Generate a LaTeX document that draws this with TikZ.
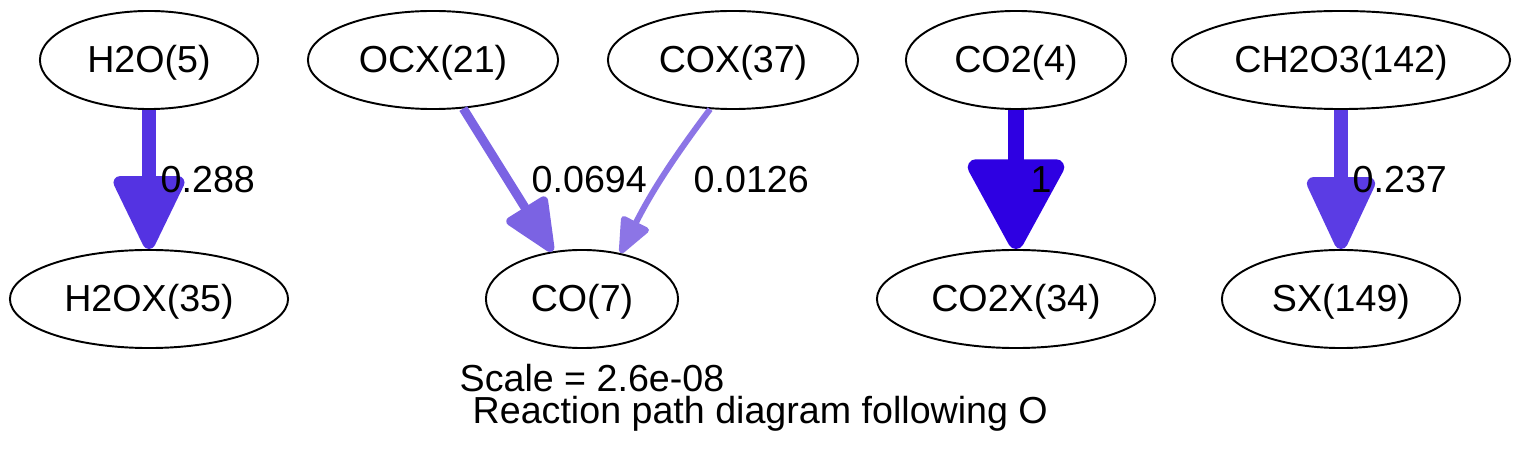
\documentclass[tikz,border=0pt]{standalone}
\usepackage{fontspec}
\setmainfont{Liberation Sans}
\usetikzlibrary{shapes.geometric,arrows.meta}

\definecolor{fluxA}{RGB}{84,51,226}
\definecolor{fluxB}{RGB}{46,0,226}
\definecolor{fluxC}{RGB}{91,60,228}
\definecolor{fluxD}{RGB}{123,99,227}
\definecolor{fluxE}{RGB}{140,117,230}

\begin{document}
\begin{tikzpicture}[x=0.01cm, y=0.01cm,
	species/.style={draw, ellipse, line width=0.55pt, inner sep=0pt, minimum height=0.98cm,
		font=\fontsize{10.7}{13}\selectfont, text height=0.72em, text depth=0pt},
	rate/.style={anchor=west, inner sep=0pt, font=\fontsize{10.7}{13}\selectfont},
	caption/.style={anchor=base west, inner sep=0pt, text depth=0pt, font=\fontsize{10.7}{13}\selectfont}]

	\useasboundingbox (0,0) rectangle (1520,-461);

	% sources
	\node [species, minimum width=2.18cm] (h2o) at (149,-60) {H2O(5)};
	\node [species, minimum width=2.50cm] (ocx) at (433,-60) {OCX(21)};
	\node [species, minimum width=2.50cm] (cox) at (733,-60) {COX(37)};
	\node [species, minimum width=2.20cm] (co2) at (1016,-60) {CO2(4)};
	\node [species, minimum width=3.38cm] (ch2o3) at (1341,-60) {CH2O3(142)};

	% products
	\node [species, minimum width=2.78cm] (h2ox) at (149,-299) {H2OX(35)};
	\node [species, minimum width=1.92cm] (co) at (582,-299) {CO(7)};
	\node [species, minimum width=2.78cm] (co2x) at (1016,-299) {CO2X(34)};
	\node [species, minimum width=2.38cm] (sx) at (1341,-299) {SX(149)};

	\draw [fluxA, line width=0.13cm, arrows={-{Triangle[length=0.82cm, width=0.75cm, round]}}] (h2o) -- (h2ox);
	\draw [fluxD, line width=0.09cm, arrows={-{Triangle[length=0.59cm, width=0.50cm, round]}}] (ocx) -- (co);
	\draw [fluxE, line width=0.06cm, arrows={-{Triangle[length=0.40cm, width=0.32cm, round]}}] (cox.-115) to [bend right=5] (co.50);
	\draw [fluxB, line width=0.16cm, arrows={-{Triangle[length=0.99cm, width=1.03cm, round]}}] (co2) -- (co2x);
	\draw [fluxC, line width=0.135cm, arrows={-{Triangle[length=0.82cm, width=0.72cm, round]}}] (ch2o3) -- (sx);

	\node [rate] (r288) at (160,-180) {0.288};
	\node [rate] (r0694) at (531,-180) {0.0694};
	\node [rate] (r0126) at (693,-180) {0.0126};
	\node [rate] (r1) at (1030,-180) {1};
	\node [rate] (r237) at (1352,-180) {0.237};

	\node [caption] (scale) at (459,-392) {Scale = 2.6e-08};
	\node [caption] (title) at (472,-424) {Reaction path diagram following O};

\end{tikzpicture}
\end{document}
